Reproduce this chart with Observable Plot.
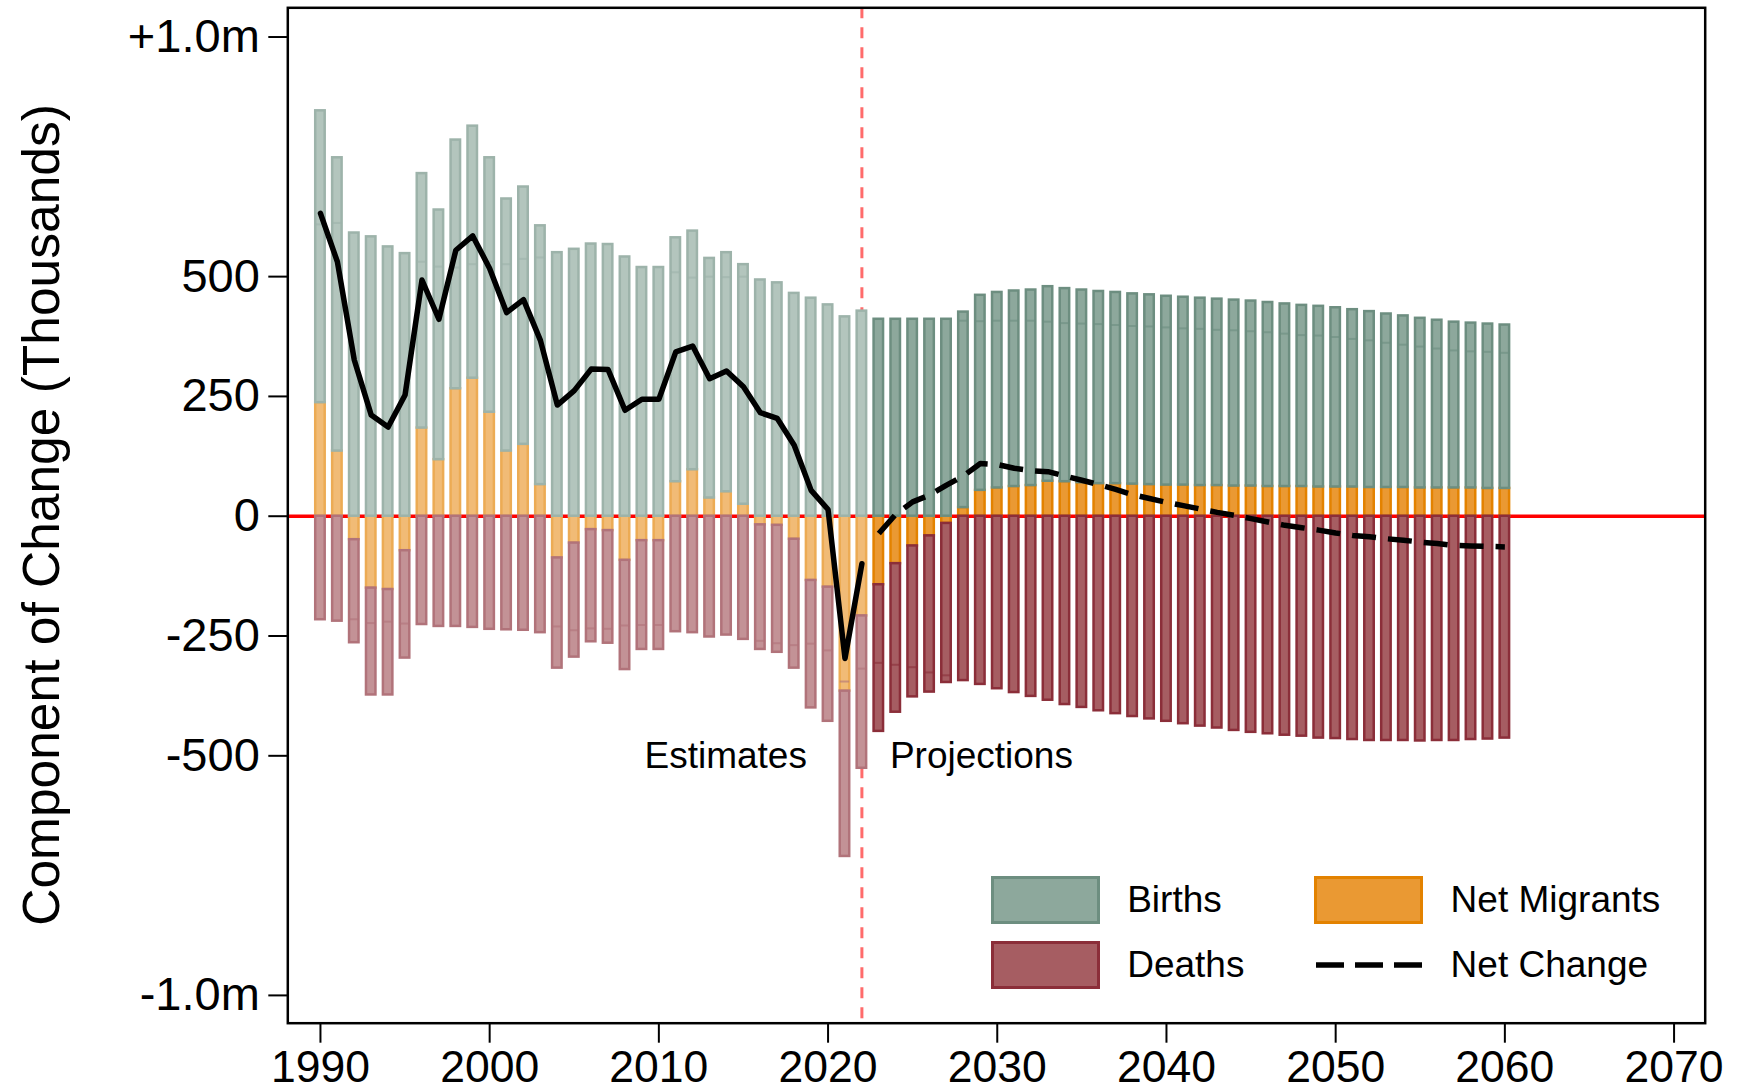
<!DOCTYPE html>
<html>
<head>
<meta charset="utf-8">
<script src="https://cdn.jsdelivr.net/npm/d3@7"></script>
<script src="https://cdn.jsdelivr.net/npm/@observablehq/plot@0.6"></script>
<style>
  html, body { margin: 0; padding: 0; background: #ffffff; }
  body { font-family: "Liberation Sans", Arial, Helvetica, sans-serif; }
  #wrap { position: relative; width: 1755px; height: 1089px; overflow: hidden; }
  .lg-sw { position: absolute; box-sizing: border-box; width: 109px; height: 48px; border: 3px solid; }
  .lg-tx { position: absolute; font-size: 37px; line-height: 48px; height: 48px; color: #000; white-space: nowrap; }
</style>
</head>
<body>
<div id="wrap"></div>
<script>
// ---------------- DATA (thousands) ----------------
const years = d3.range(1990, 2061);
const lastEstimateYear = 2022;

const births = [609,612,591,583,562,548,531,521,519,526,531,526,537,540,550,557,568,567,541,519,519,509,498,500,499,500,493,487,465,455,441,416,428,
  411,411,411,411,411,
  408,407,408,408,408,406,403,402,401,399,397,396,394,392,391,389,388,386,384,381,378,377,374,370,367,362,358,354,350,346,344,343,341];

const migrants = [237,136,-49,-150,-153,-72,184,118,266,288,217,136,150,66,-87,-56,-28,-30,-92,-51,-51,72,97,38,51,25,-18,-19,-48,-134,-148,-365,-208,
  -143,-99,-62,-41,-15,
  18,54,59,62,64,73,72,70,68,68,67,66,65,65,64,64,63,63,62,62,62,61,61,61,60,60,60,59,59,59,59,58,58];

const deaths = [216,219,215,223,220,224,226,230,230,232,236,237,238,243,230,238,234,235,228,227,227,241,243,252,248,257,260,265,269,266,280,345,318,
  306,310,315,326,332,
  343,351,360,368,376,384,393,399,406,412,418,423,428,433,438,442,447,451,454,457,459,463,464,466,468,468,468,469,468,468,466,465,463];

const netChange = [632,531,326,211,186,253,493,411,555,585,517,425,452,367,232,262,307,306,221,244,244,343,355,287,303,270,216,204,148,54,14,-297,-99,
  -36,4,30,44,65,
  84,110,108,100,95,93,84,75,66,56,45,37,29,22,15,8,2,-5,-12,-19,-24,-29,-35,-40,-43,-47,-50,-54,-57,-61,-62,-63,-64];

const yTicks = [-1000, -500, -250, 0, 250, 500, 1000];
const yTickLabels = ["-1.0m", "-500", "-250", "0", "250", "500", "+1.0m"];
const xTicks = [1990, 2000, 2010, 2020, 2030, 2040, 2050, 2060, 2070];

// ---------------- STYLE ----------------
const fills   = {"Births": "#8da89c", "Deaths": "#a65d62", "Net Migrants": "#ea9933"};
const strokes = {"Births": "#6d8e80", "Deaths": "#8b2e39", "Net Migrants": "#e38200"};
const lighten = (c) => d3.interpolateRgb(c, "#ffffff")(0.33);
const halfW = 0.28;

// ---------------- BUILD STACK TABLE ----------------
const rows = [];
const faint = [];
years.forEach((yr, i) => {
  const est = yr <= lastEstimateYear;
  let pos = 0, neg = 0;
  const comps = [["Net Migrants", migrants[i]], ["Births", births[i]], ["Deaths", -deaths[i]]];
  for (const [k, v] of comps) {
    let y1, y2;
    if (v >= 0) { y1 = pos; y2 = pos + v; pos = y2; }
    else { y1 = neg; y2 = neg + v; neg = y2; }
    rows.push({year: yr, key: k, y1, y2, est,
      fill: est ? lighten(fills[k]) : fills[k],
      stroke: est ? lighten(strokes[k]) : strokes[k]});
  }
  if (migrants[i] > 0) faint.push({year: yr, y: births[i], stroke: est ? lighten(strokes["Births"]) : strokes["Births"]});
  if (migrants[i] < 0) faint.push({year: yr, y: -deaths[i], stroke: est ? lighten(strokes["Deaths"]) : strokes["Deaths"]});
});
const netRows = years.map((yr, i) => ({year: yr, net: netChange[i]}));
const netEst = netRows.filter(d => d.year <= lastEstimateYear);
const netProj = netRows.filter(d => d.year > lastEstimateYear);

const font = "Liberation Sans, Arial, Helvetica, sans-serif";

const chart = Plot.plot({
  width: 1755,
  height: 1089,
  marginLeft: 287.3,
  marginRight: 50.3,
  marginTop: 7.3,
  marginBottom: 66.3,
  x: {domain: [1988.07, 2071.84]},
  y: {domain: [-1058, 1061]},
  color: {type: "identity"},
  style: {fontFamily: font, color: "#000", background: "#ffffff", overflow: "visible"},
  marks: [
    Plot.ruleY([0], {stroke: "#ff0000", strokeWidth: 3.5}),
    Plot.ruleX([lastEstimateYear], {stroke: "#ff6b6b", strokeWidth: 3, strokeDasharray: "11,9"}),
    Plot.rect(rows, {
      x1: d => d.year - halfW, x2: d => d.year + halfW,
      y1: "y1", y2: "y2",
      fill: "fill", stroke: "stroke", strokeWidth: 2.5
    }),
    Plot.ruleY(faint, {x1: d => d.year - halfW, x2: d => d.year + halfW, y: "y", stroke: "stroke", strokeWidth: 2, strokeOpacity: 0.6}),
    Plot.line(netEst, {x: "year", y: "net", stroke: "#000", strokeWidth: 5.5}),
    Plot.line(netProj, {x: "year", y: "net", stroke: "#000", strokeWidth: 5.5, strokeDasharray: "24,12", strokeLinecap: "butt"}),
    Plot.text(["Estimates"], {x: lastEstimateYear, y: -500, text: d => d, textAnchor: "end", dx: -55, fontSize: 37, fill: "#000"}),
    Plot.text(["Projections"], {x: lastEstimateYear, y: -500, text: d => d, textAnchor: "start", dx: 28, fontSize: 37, fill: "#000"}),
    Plot.axisY({ticks: yTicks, tickFormat: d => yTickLabels[yTicks.indexOf(d)], tickSize: 19, tickPadding: 9, fontSize: 47, strokeWidth: 2, label: null}),
    Plot.axisX({ticks: xTicks, tickFormat: d => String(d), tickSize: 20, tickPadding: 7, fontSize: 44.5, strokeWidth: 2, label: null}),
    Plot.frame({stroke: "#000", strokeWidth: 2.5})
  ]
});

const wrap = document.getElementById("wrap");
wrap.appendChild(chart);

// Y axis title
d3.select(chart).append("text")
  .attr("transform", "translate(59,515) rotate(-90)")
  .attr("text-anchor", "middle")
  .attr("font-family", font)
  .attr("font-size", 51.5)
  .attr("fill", "#000")
  .text("Component of Change (Thousands)");

// Legend (HTML overlay inside plot area)
const legendItems = [
  {label: "Births", type: "box", key: "Births", left: 990.6, top: 876.4},
  {label: "Deaths", type: "box", key: "Deaths", left: 990.6, top: 941.3},
  {label: "Net Migrants", type: "box", key: "Net Migrants", left: 1314, top: 876.4},
  {label: "Net Change", type: "dash", left: 1314, top: 941.3}
];
for (const it of legendItems) {
  if (it.type === "box") {
    const sw = document.createElement("div");
    sw.className = "lg-sw";
    sw.style.left = it.left + "px";
    sw.style.top = it.top + "px";
    sw.style.background = fills[it.key];
    sw.style.borderColor = strokes[it.key];
    wrap.appendChild(sw);
  } else {
    const ns = "http://www.w3.org/2000/svg";
    const s = document.createElementNS(ns, "svg");
    s.setAttribute("width", 109); s.setAttribute("height", 48);
    s.style.position = "absolute"; s.style.left = it.left + "px"; s.style.top = it.top + "px";
    const l = document.createElementNS(ns, "line");
    l.setAttribute("x1", 2); l.setAttribute("x2", 108); l.setAttribute("y1", 24); l.setAttribute("y2", 24);
    l.setAttribute("stroke", "#000"); l.setAttribute("stroke-width", 5.5);
    l.setAttribute("stroke-dasharray", "28,11");
    s.appendChild(l);
    wrap.appendChild(s);
  }
  const tx = document.createElement("div");
  tx.className = "lg-tx";
  tx.textContent = it.label;
  tx.style.left = (it.left + 136.6) + "px";
  tx.style.top = it.top + "px";
  wrap.appendChild(tx);
}
</script>
</body>
</html>
